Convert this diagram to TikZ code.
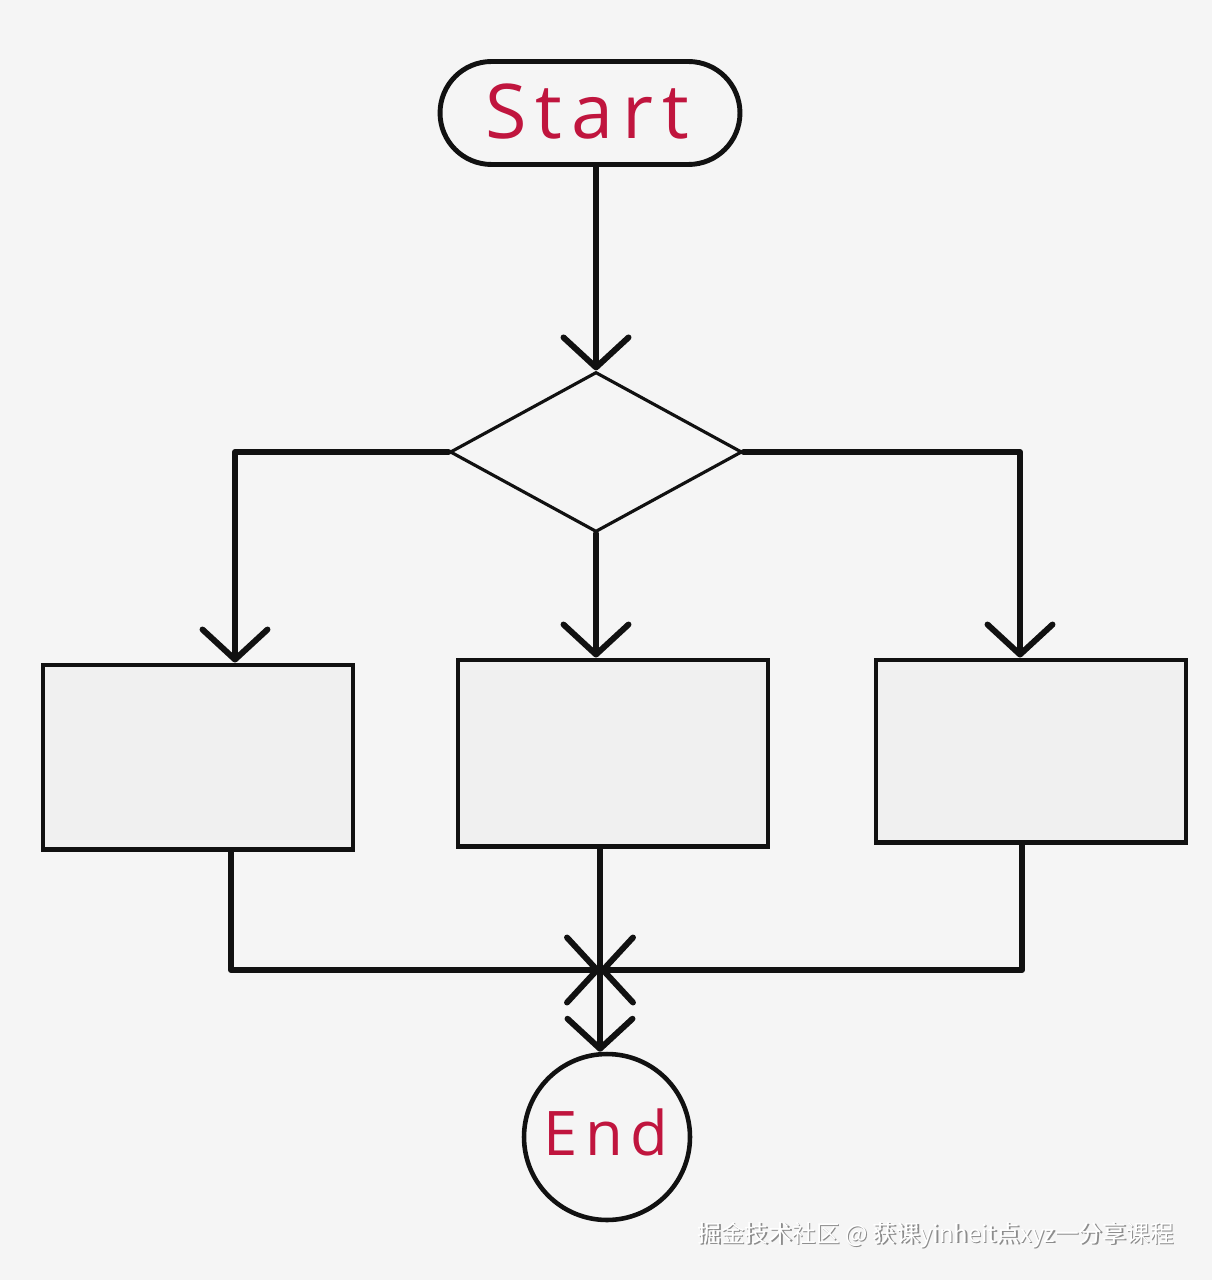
\documentclass[tikz,border=0pt]{standalone}
\usepackage{fontspec}
\usetikzlibrary{shapes.geometric,arrows.meta,calc}
\newfontfamily\cjk{Noto Sans CJK SC}
\newfontfamily\hand[LetterSpace=12]{Open Sans}
\definecolor{paper}{HTML}{F5F5F5}
\definecolor{boxfill}{HTML}{F0F0F0}
\definecolor{ink}{HTML}{111111}
\definecolor{redink}{HTML}{C0153E}
\tikzset{
  flowline/.style={draw=ink, line width=3.4pt, line cap=round, line join=round},
  arr/.style={flowline, -{Straight Barb[length=0.6cm,width=1.3cm,round]}},
  procbox/.style={draw=ink, fill=boxfill, line width=2.3pt, minimum width=6.2cm, minimum height=3.7cm, inner sep=0pt},
  termtext/.style={text=redink, font=\hand},
}
\begin{document}
\begin{tikzpicture}[x=0.02cm,y=-0.02cm]
\fill[paper] (0,0) rectangle (1212,1280);
\useasboundingbox (0,0) rectangle (1212,1280);

\node[draw=ink, line width=2.8pt, fill=paper, minimum width=6cm, minimum height=2.06cm, rounded corners=1.03cm, inner sep=0pt] (start) at (590,113) {};
\node[termtext, font=\hand\fontsize{43}{50}\selectfont] (starttext) at (587,112) {Start};

\node[diamond, draw=ink, line width=1.8pt, minimum width=5.84cm, minimum height=3.2cm, inner sep=0pt] (dec) at (596,452) {};

\node[procbox] (box1) at (198,757) {};
\node[procbox, minimum height=3.74cm] (box2) at (613,753) {};
\node[procbox, minimum height=3.66cm] (box3) at (1031,751) {};

\node[circle, draw=ink, line width=2.6pt, minimum size=3.32cm, inner sep=0pt] (end) at (607,1137) {};
\node[termtext, font=\hand\fontsize{35}{42}\selectfont] (endtext) at (606,1132) {End};

\coordinate (merge) at (600,970);

% start -> decision
\draw[arr] (dec.north |- start.south) -- (dec.north);
% decision -> boxes
\draw[arr] (dec.west) -| ($(box1.north)+(37,0)$);
\draw[arr] (dec.south) -- (dec.south |- box2.north);
\draw[arr] (dec.east) -| ($(box3.north)+(-11,0)$);
% boxes -> merge
\draw[arr] ($(box1.south)+(33,0)$) |- (merge);
\draw[arr] ($(box3.south)+(-9,0)$) |- (merge);
\draw[flowline] (box2.south -| merge) -- (merge);
% merge -> end
\draw[arr] (merge) -- (merge |- end.north);

% watermark
\node[anchor=east, text=black!45, font=\cjk\fontsize{13.5}{16}\selectfont] (wmshadow) at (1181.5,1236.5) {掘金技术社区 @ 获课yinheit点xyz一分享课程};
\node[anchor=east, text=white, font=\cjk\fontsize{13.5}{16}\selectfont] (wm) at (1180,1235) {掘金技术社区 @ 获课yinheit点xyz一分享课程};
\end{tikzpicture}
\end{document}
